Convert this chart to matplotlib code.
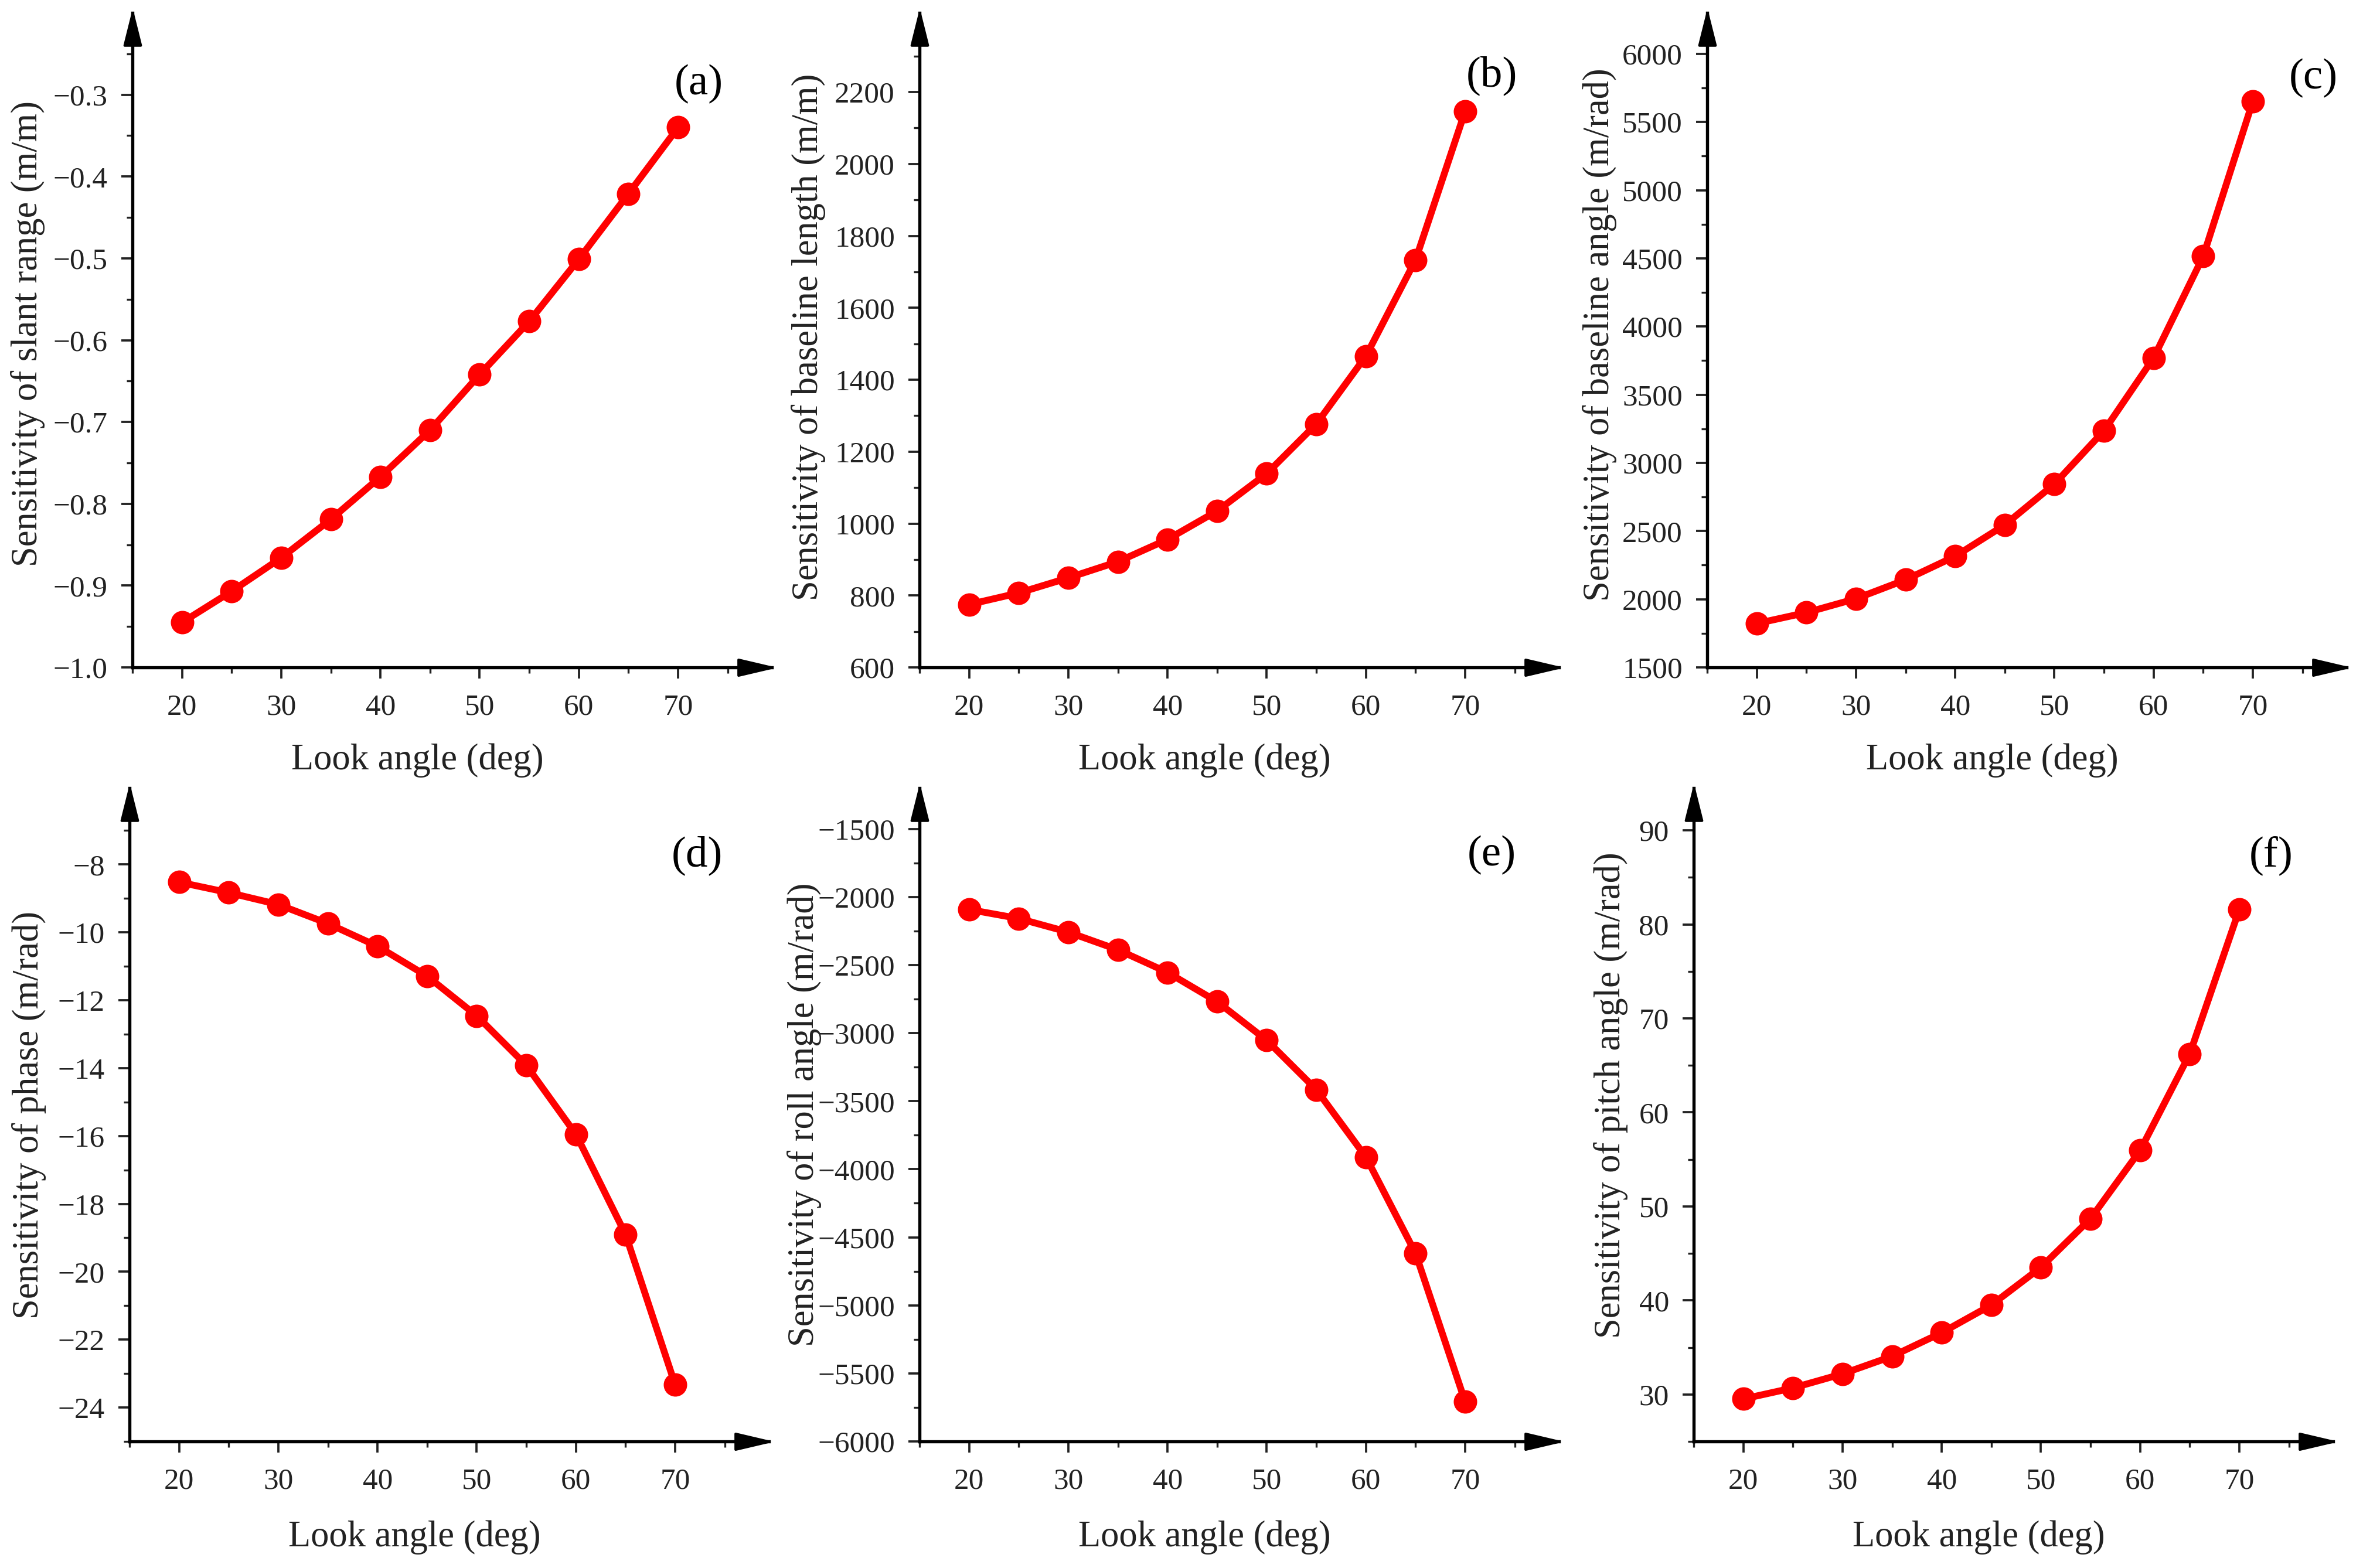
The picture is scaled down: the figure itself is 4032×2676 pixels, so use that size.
import numpy as np
import matplotlib
matplotlib.use("Agg")
import matplotlib.pyplot as plt
from matplotlib.ticker import FuncFormatter
from matplotlib.path import Path

plt.rcParams['font.family'] = ['Liberation Serif', 'DejaVu Serif']

# ---------------- data ----------------
look_angle = [20, 25, 30, 35, 40, 45, 50, 55, 60, 65, 70]

sens_slant_range = [-0.945, -0.907, -0.866, -0.819, -0.767, -0.710, -0.642, -0.577, -0.501, -0.421, -0.340]
sens_baseline_length = [775, 807, 849, 894, 956, 1035, 1139, 1277, 1466, 1733, 2147]
sens_baseline_angle = [1822, 1902, 2004, 2143, 2315, 2545, 2845, 3236, 3770, 4515, 5652]
sens_phase = [-8.52, -8.83, -9.18, -9.74, -10.41, -11.29, -12.46, -13.92, -15.95, -18.90, -23.33]
sens_roll = [-2092, -2158, -2258, -2388, -2554, -2769, -3053, -3416, -3911, -4618, -5709]
sens_pitch = [29.52, 30.69, 32.19, 34.06, 36.57, 39.51, 43.52, 48.70, 55.96, 66.22, 81.60]

ylabels = ["Sensitivity of slant range (m/m)",
           "Sensitivity of baseline length (m/m)",
           "Sensitivity of baseline angle (m/rad)",
           "Sensitivity of phase (m/rad)",
           "Sensitivity of roll angle (m/rad)",
           "Sensitivity of pitch angle (m/rad)"]
panel_tags = ["(a)", "(b)", "(c)", "(d)", "(e)", "(f)"]
xlabel = "Look angle (deg)"

xticks_major = [20, 30, 40, 50, 60, 70]
xticks_minor = [15, 25, 35, 45, 55, 65, 75]

yticks_a = [-1.0, -0.9, -0.8, -0.7, -0.6, -0.5, -0.4, -0.3]
yticks_b = [600, 800, 1000, 1200, 1400, 1600, 1800, 2000, 2200]
yticks_c = [1500, 2000, 2500, 3000, 3500, 4000, 4500, 5000, 5500, 6000]
yticks_d = [-24, -22, -20, -18, -16, -14, -12, -10, -8]
yticks_e = [-6000, -5500, -5000, -4500, -4000, -3500, -3000, -2500, -2000, -1500]
yticks_f = [30, 40, 50, 60, 70, 80, 90]

# ---------------- layout (styles) ----------------
W, H = 4032, 2676
series = [sens_slant_range, sens_baseline_length, sens_baseline_angle,
          sens_phase, sens_roll, sens_pitch]
yticks_all = [yticks_a, yticks_b, yticks_c, yticks_d, yticks_e, yticks_f]
ylims = [(-1.0, -0.2), (600, 2420), (1500, 6300), (-25, -5.75), (-6000, -1200), (25, 94.5)]
minor_steps = [0.05, 100, 250, 1, 250, 5]
minor_ranges = [(-1.0, -0.25), (600, 2300), (1500, 6000), (-25, -7), (-6000, -1500), (25, 90)]
fmts = ["{:.1f}", "{:.0f}", "{:.0f}", "{:.0f}", "{:.0f}", "{:.0f}"]
# axes rectangles in pixels: left, top, bottom
rects = [(226, 22, 1139), (1569, 22, 1139), (2913, 22, 1139),
         (221, 1345, 2460), (1569, 1345, 2460), (2890, 1345, 2460)]
ax_w_px = 1091
ylabel_center_px = [44, 1376, 2726, 46, 1369, 2745]
ylabel_y = [0.51, 0.505, 0.508, 0.50, 0.50, 0.53]
xlabel_y = [-0.116, -0.116, -0.116, -0.121, -0.121, -0.121]
tag_pos = [(0.886, 0.891), (0.895, 0.904), (0.948, 0.900),
           (0.888, 0.897), (0.895, 0.897), (0.903, 0.897)]

fig = plt.figure(figsize=(W / 300, H / 300), dpi=300)

arrow_right = Path([(-1, -0.235), (0, 0), (-1, 0.235), (-1, -0.235)],
                   [Path.MOVETO, Path.LINETO, Path.LINETO, Path.CLOSEPOLY])
arrow_up = Path([(-0.25, -1), (0, 0), (0.25, -1), (-0.25, -1)],
                [Path.MOVETO, Path.LINETO, Path.LINETO, Path.CLOSEPOLY])

text_col = "#222222"

for i in range(6):
    left, top, bottom = rects[i]
    ax = fig.add_axes([left / W, 1 - bottom / H, ax_w_px / W, (bottom - top) / H])
    ax.plot(look_angle, series[i], color="#ff0000", lw=2.8, marker="o",
            markersize=8.6, markerfacecolor="#ff0000", markeredgecolor="#ff0000",
            solid_capstyle="round", zorder=3)
    ax.set_xlim(15, 79.45)
    ax.set_ylim(*ylims[i])
    for s in ["top", "right"]:
        ax.spines[s].set_visible(False)
    for s in ["left", "bottom"]:
        ax.spines[s].set_linewidth(1.3)
        ax.spines[s].set_color("black")
    ax.set_xticks(xticks_major)
    ax.set_xticks(xticks_minor, minor=True)
    ax.set_yticks(yticks_all[i])
    lo, hi = minor_ranges[i]
    st = minor_steps[i]
    ax.set_yticks(np.arange(lo, hi + st / 2, st), minor=True)
    f = fmts[i]
    ax.yaxis.set_major_formatter(FuncFormatter(lambda v, p, f=f: f.format(v).replace("-", "\u2212")))
    ax.tick_params(which="major", direction="out", length=4.6, width=0.9,
                   labelsize=12.3, colors=text_col, pad=5.5)
    ax.tick_params(which="minor", direction="out", length=2.3, width=0.8, colors=text_col)
    ax.tick_params(axis="x", which="major", pad=6.2)
    ax.set_xlabel(xlabel, fontsize=15, color=text_col)
    ax.xaxis.set_label_coords(0.446, xlabel_y[i])
    ax.set_ylabel(ylabels[i], fontsize=15, color=text_col)
    ax.yaxis.set_label_coords((ylabel_center_px[i] + 33 - left) / ax_w_px, ylabel_y[i])
    ax.text(tag_pos[i][0], tag_pos[i][1], panel_tags[i], transform=ax.transAxes,
            fontsize=18, ha="center", va="center", color="black")
    # axis arrows
    ax.plot([1], [0], marker=arrow_right, markersize=27.5, color="black",
            transform=ax.transAxes, clip_on=False, zorder=5)
    ax.plot([0], [1], marker=arrow_up, markersize=26.5, color="black",
            transform=ax.transAxes, clip_on=False, zorder=5)

fig.savefig("out.png", dpi=300, facecolor="white")
